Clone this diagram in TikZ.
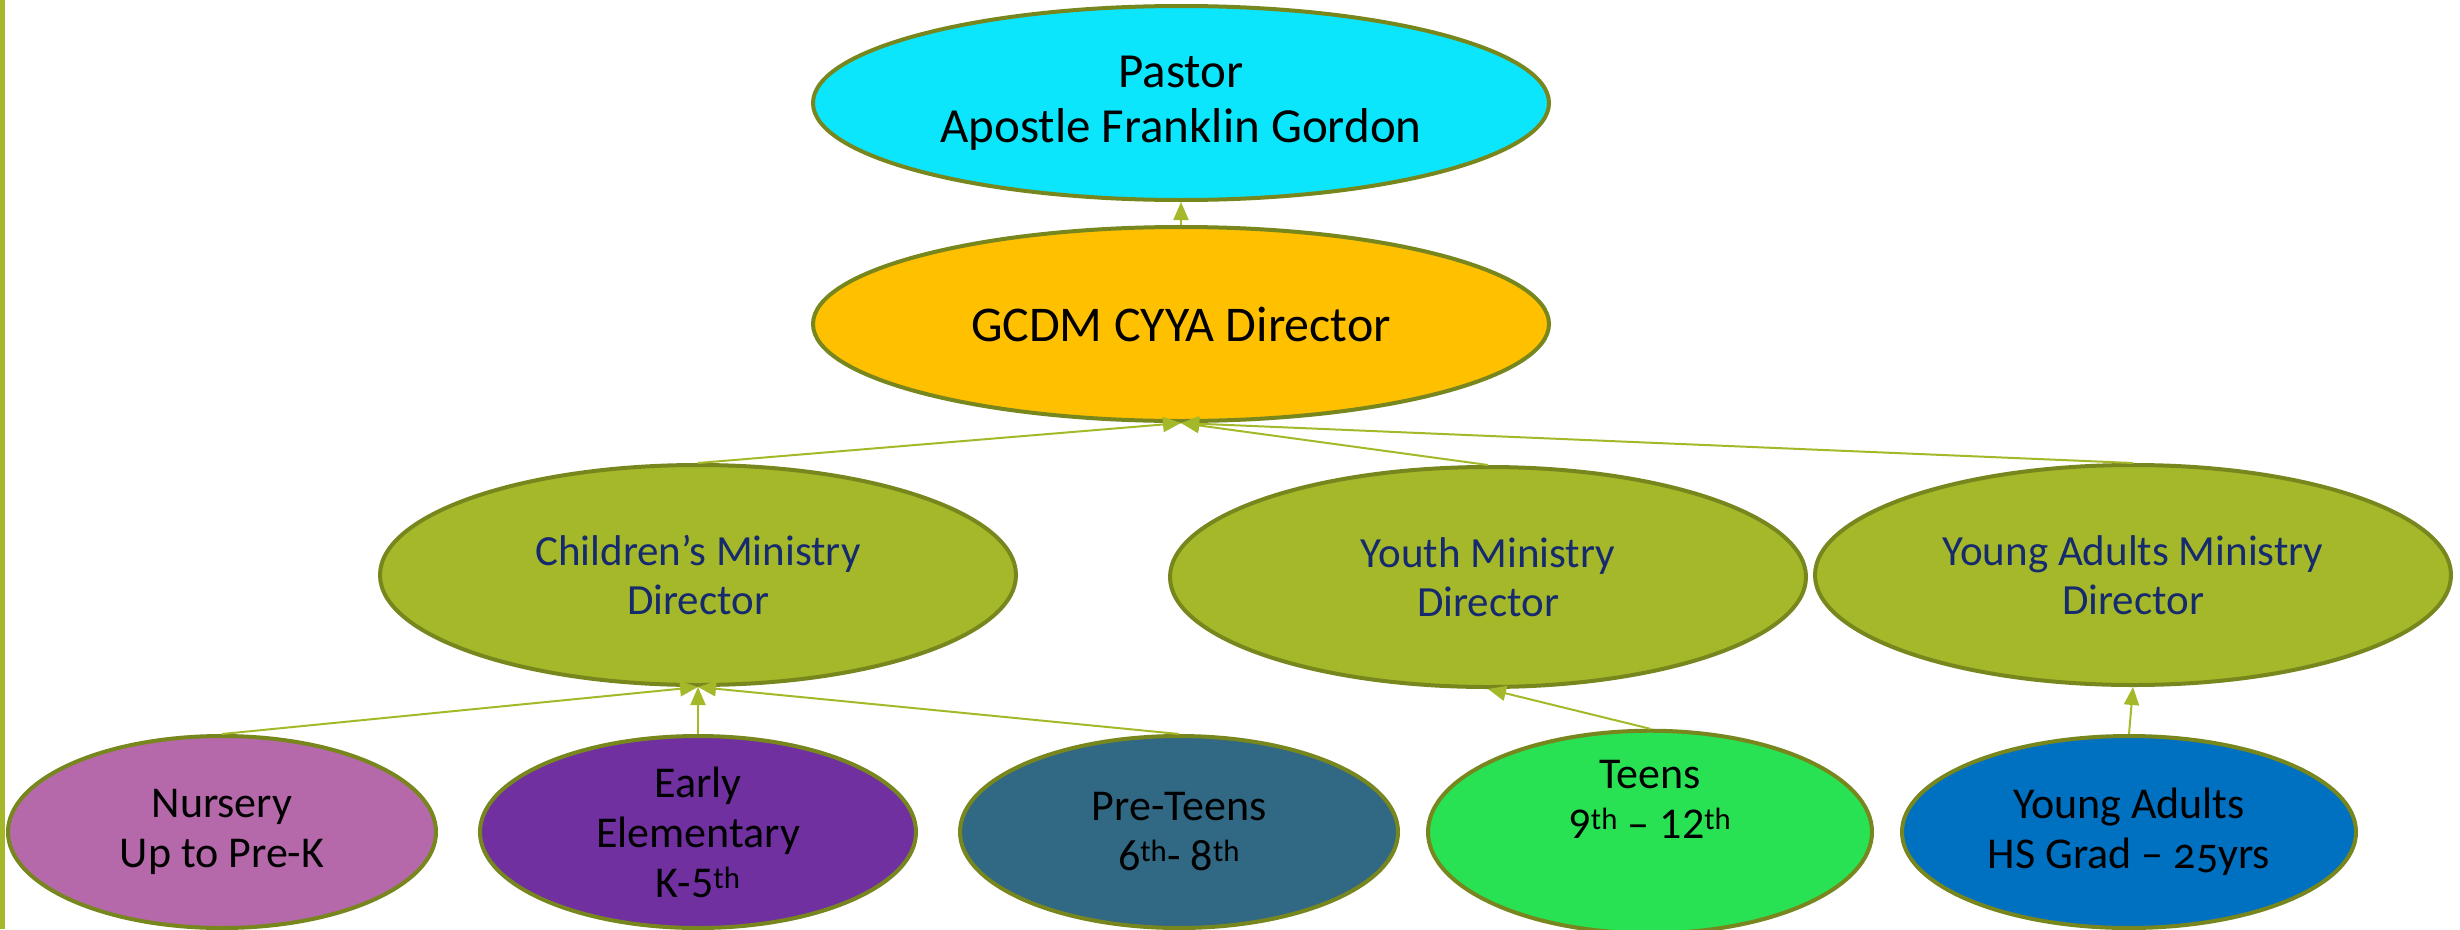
\documentclass[tikz,border=0pt]{standalone}
\usepackage{fontspec}
\setmainfont{Carlito}
\usetikzlibrary{shapes.geometric,arrows.meta}
\definecolor{bord}{RGB}{120,134,30}
\definecolor{lgreen}{RGB}{165,184,42}
\definecolor{cpastor}{RGB}{12,230,252}
\definecolor{cgold}{RGB}{255,192,0}
\definecolor{cnurs}{RGB}{181,104,170}
\definecolor{cearly}{RGB}{112,48,160}
\definecolor{cpre}{RGB}{49,104,132}
\definecolor{cteen}{RGB}{40,226,84}
\definecolor{cya}{RGB}{0,112,192}
\definecolor{navy}{RGB}{22,42,110}
\tikzset{
  oval/.style={ellipse,draw=bord,line width=4pt,inner sep=0pt,align=center},
  topbox/.style={oval,minimum width=736pt,minimum height=194pt,font=\fontsize{49}{55}\selectfont},
  midbox/.style={oval,fill=lgreen,minimum width=636pt,minimum height=220pt,text=navy,font=\fontsize{43}{49}\selectfont},
  lowbox/.style={oval,minimum height=192pt,font=\fontsize{44}{50}\selectfont},
  conn/.style={draw=lgreen,line width=2pt,-{Triangle[length=18pt,width=15pt]}}
}
\begin{document}
\begin{tikzpicture}[x=1pt,y=-1pt]
\useasboundingbox (0,0) rectangle (2460,929);
\fill[lgreen] (0,0) rectangle (5,929);
\node[topbox,fill=cpastor] (pastor) at (1181,103) {Pastor\\Apostle Franklin Gordon};
\node[topbox,fill=cgold,font=\fontsize{50}{55}\selectfont] (gcdm) at (1181,324) {GCDM CYYA Director};
\node[midbox] (child) at (698,575) {Children’s Ministry\\Director};
\node[midbox] (youth) at (1488,577) {Youth Ministry\\Director};
\node[midbox] (yam) at (2133,575) {Young Adults Ministry\\Director};
\node[lowbox,fill=cnurs,minimum width=428pt] (nurs) at (222,832) {Nursery\\Up to Pre-K};
\node[lowbox,fill=cearly,minimum width=436pt] (early) at (698,832) {Early\\Elementary\\K-5\textsuperscript{th}};
\node[lowbox,fill=cpre,minimum width=438pt] (pre) at (1179,832) {Pre-Teens\\6\textsuperscript{th}- 8\textsuperscript{th}};
\node[lowbox,fill=cteen,minimum width=444pt] (teen) at (1650,832) {Teens\\9\textsuperscript{th} – 12\textsuperscript{th}\\\strut};
\node[lowbox,fill=cya,minimum width=454pt] (ya) at (2129,832) {Young Adults\\HS Grad – {\addfontfeatures{Numbers=OldStyle}25}yrs};
\draw[conn] (gcdm.north) -- (pastor.south);
\draw[conn] (child.north) -- (gcdm.south);
\draw[conn] (youth.north) -- (gcdm.south);
\draw[conn] (yam.north) -- (gcdm.south);
\draw[conn] (nurs.north) -- (child.south);
\draw[conn] (early.north) -- (child.south);
\draw[conn] (pre.north) -- (child.south);
\draw[conn] (teen.north) -- (youth.south);
\draw[conn] (ya.north) -- (yam.south);
\end{tikzpicture}
\end{document}
